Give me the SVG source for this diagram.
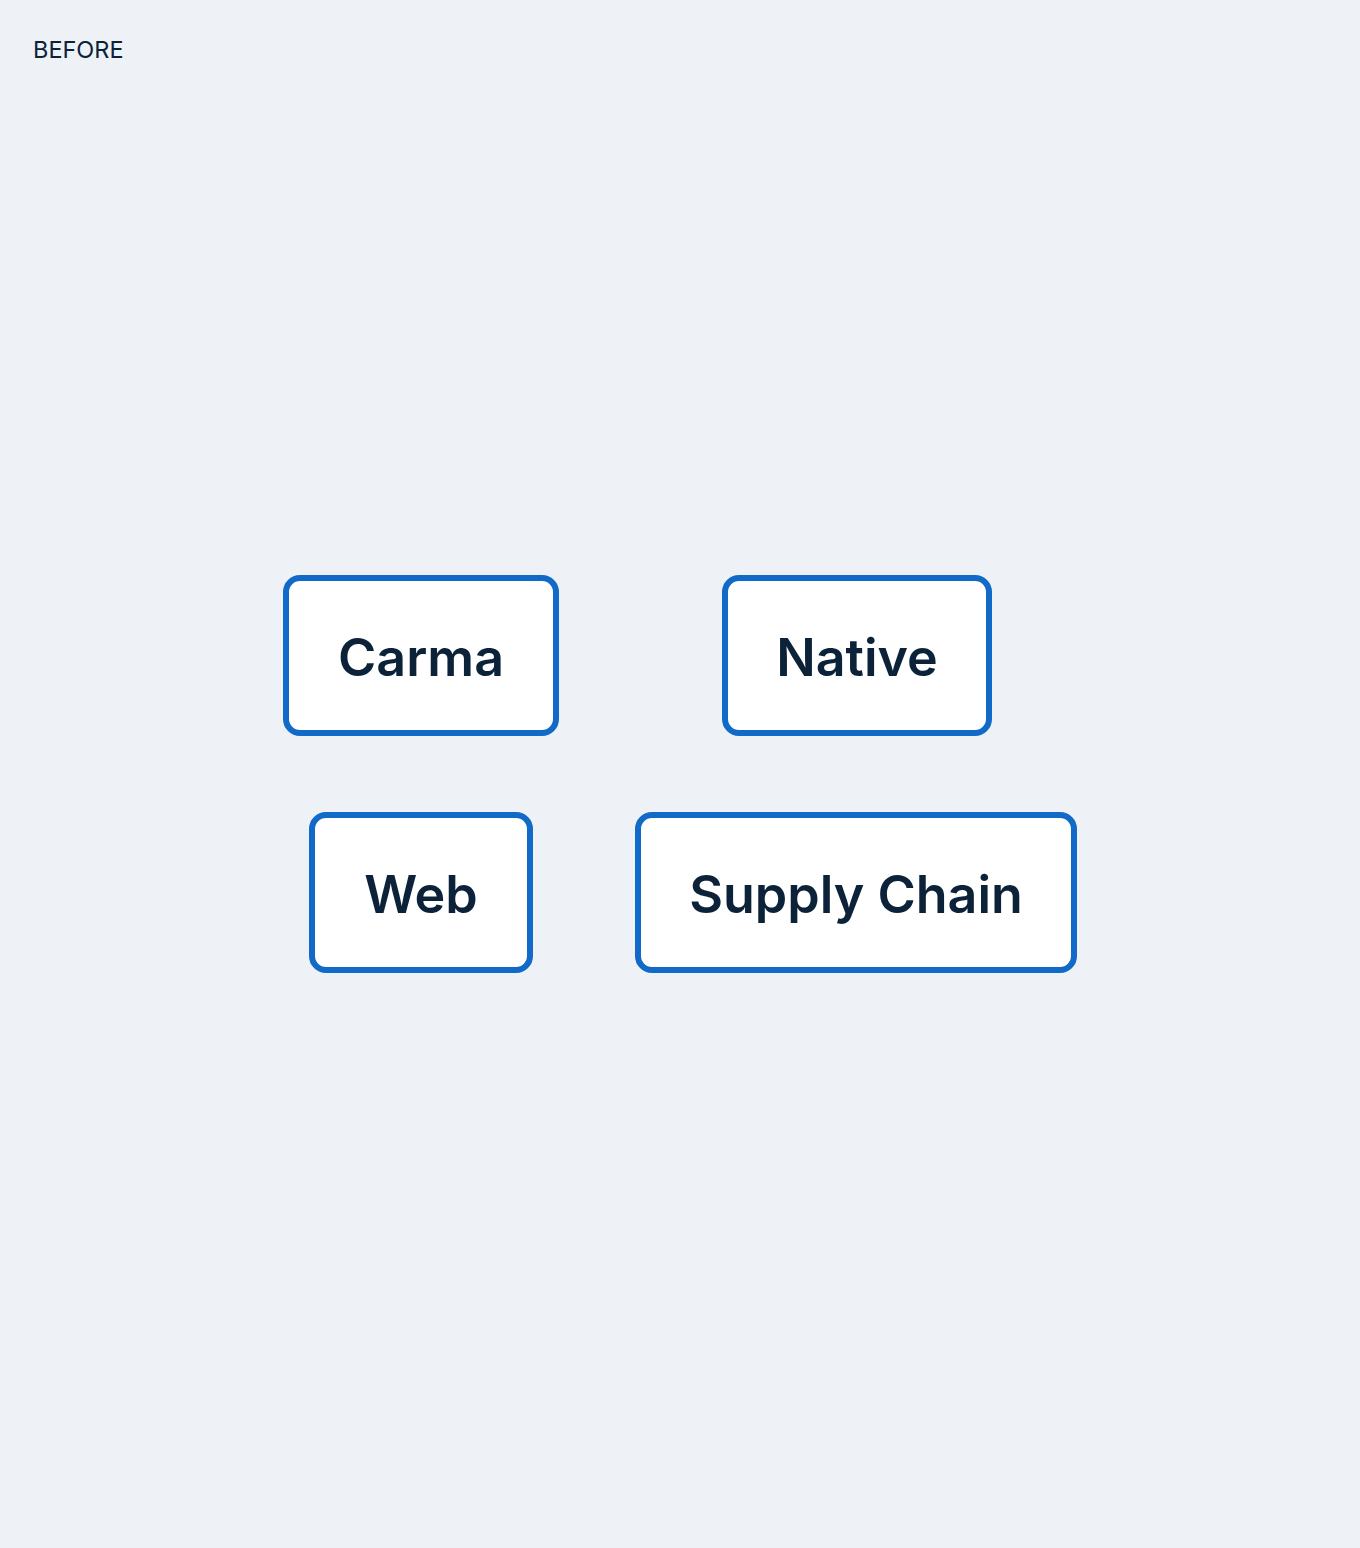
<svg xmlns="http://www.w3.org/2000/svg" width="1360" height="1548" viewBox="0 0 1360 1548">
<style>
.node rect{fill:#ffffff;stroke:#1169c8;stroke-width:6}
.node text{font-family:Inter,"Noto Sans","Liberation Sans",sans-serif;font-size:52px;font-weight:600;fill:#0b2239;text-anchor:middle}
.title{font-family:Inter,"Noto Sans","Liberation Sans",sans-serif;font-size:23.5px;fill:#0b2239}
</style>
<rect x="0" y="0" width="1360" height="1548" fill="#eef2f7"/>
<text class="title" x="33" y="58">BEFORE</text>
<g id="connectors"></g>
<g id="carma" class="node"><rect x="286" y="578" width="270" height="155" rx="14"/><text x="421" y="676">Carma</text></g>
<g id="native" class="node"><rect x="725" y="578" width="264" height="155" rx="14"/><text x="857" y="676">Native</text></g>
<g id="web" class="node"><rect x="312" y="815" width="218" height="155" rx="14"/><text x="421" y="913">Web</text></g>
<g id="supply-chain" class="node"><rect x="638" y="815" width="436" height="155" rx="14"/><text x="856" y="913">Supply Chain</text></g>
</svg>
